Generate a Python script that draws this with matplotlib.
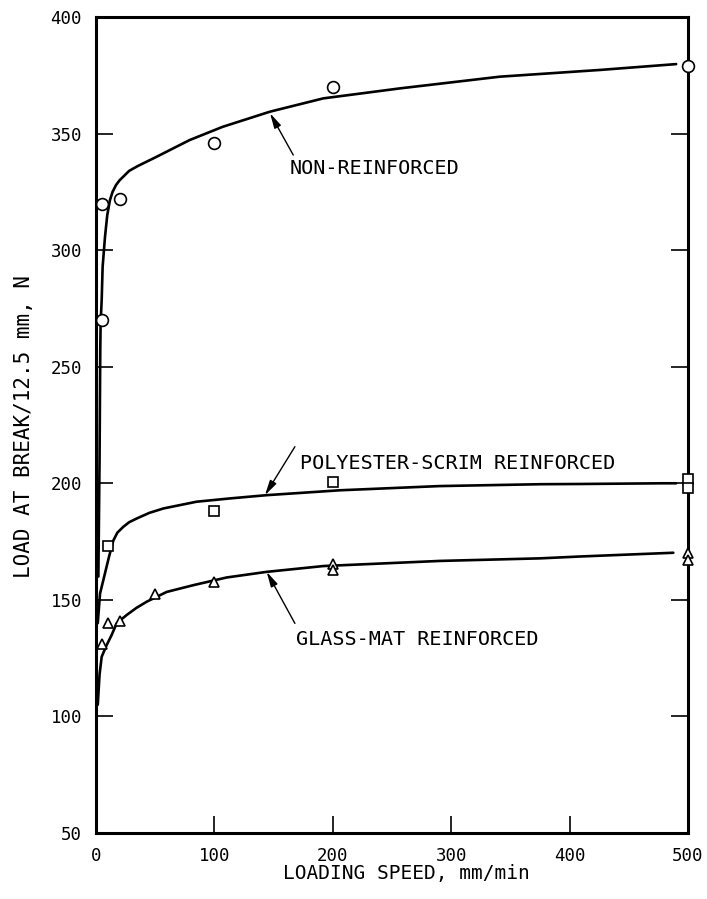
import matplotlib
matplotlib.use("Agg")
import matplotlib.pyplot as plt

nonreinf_x = [5, 5, 20, 100, 200, 500]
nonreinf_y = [270, 320, 322, 346, 370, 379]
polyester_x = [10, 100, 200, 500, 500]
polyester_y = [173, 188, 200.5, 202, 198]
glass_x = [5, 10, 20, 50, 100, 200, 200, 500, 500]
glass_y = [131, 140, 141, 152.5, 157.6, 165.5, 163, 170, 167]

# hand-drawn fit curves
nonreinf_curve_x = [2.0, 3.0, 3.6, 3.9, 4.8, 5.6, 7.6, 9.5, 11.8, 14, 17, 20, 23, 28, 35, 51, 79, 107, 147, 192, 257, 341, 426, 490]
nonreinf_curve_y = [160, 210, 257, 268.6, 278.6, 292.9, 305.7, 315, 321.5, 325, 328, 330, 331.5, 334, 336, 340, 347.2, 352.9, 359.4, 365.1, 369.4, 374.4, 377.3, 379.8]
polyester_curve_x = [1.5, 3.4, 6.2, 11, 14.6, 18, 23, 28, 34.4, 45, 56.9, 85, 113, 144, 206, 290, 375, 409, 479, 490]
polyester_curve_y = [140, 152.7, 158.5, 168.5, 175.4, 178.8, 181.3, 183.3, 184.9, 187.3, 189.2, 192.1, 193.5, 194.9, 197, 198.8, 199.6, 199.7, 200, 200]
glass_curve_x = [1.5, 3.0, 4.8, 9, 13.2, 17.5, 25.9, 34, 42.8, 59.7, 82.2, 110.4, 144, 192, 290.5, 375, 408.8, 487.6]
glass_curve_y = [105, 118, 125.6, 130.6, 134.9, 140, 143.5, 146.5, 149.2, 153.4, 156.3, 159.6, 162, 164.5, 166.7, 167.8, 168.6, 170.2]

x_ticks = [0, 100, 200, 300, 400, 500]
y_ticks = [50, 100, 150, 200, 250, 300, 350, 400]

mono = "DejaVu Sans Mono"

fig = plt.figure(figsize=(7.07, 8.99), dpi=100)
ax = fig.add_axes([96 / 707, 1 - 833 / 899, 592 / 707, 816 / 899])

line_kw = dict(color="black", lw=1.9, solid_capstyle="round", solid_joinstyle="round", zorder=2)
ax.plot(nonreinf_curve_x, nonreinf_curve_y, **line_kw)
ax.plot(polyester_curve_x, polyester_curve_y, **line_kw)
ax.plot(glass_curve_x, glass_curve_y, **line_kw)

mk_kw = dict(ls="none", mfc="white", mec="black", mew=1.2, zorder=3, clip_on=False)
ax.plot(nonreinf_x, nonreinf_y, marker="o", ms=8.5, **mk_kw)
ax.plot(polyester_x, polyester_y, marker="s", ms=7.5, **mk_kw)
ax.plot(glass_x, glass_y, marker="^", ms=7.5, **mk_kw)

arrow = dict(arrowstyle="-|>,head_length=0.9,head_width=0.22", color="black", lw=1.0, shrinkA=0, shrinkB=0)
ax.annotate("", xy=(147, 358.7), xytext=(166.6, 340.8), arrowprops=arrow)
ax.annotate("", xy=(142.7, 194.9), xytext=(168, 215.7), arrowprops=arrow)
ax.annotate("", xy=(144.2, 162), xytext=(168, 139.9), arrowprops=arrow)

lbl_kw = dict(fontsize=14.5, family=mono, ha="left", va="center")
ax.text(163.9, 335.2, "NON-REINFORCED", **lbl_kw)
ax.text(172.3, 208.7, "POLYESTER-SCRIM REINFORCED", **lbl_kw)
ax.text(168.9, 133.2, "GLASS-MAT REINFORCED", **lbl_kw)

ax.set_xlim(0, 500)
ax.set_ylim(50, 400)
ax.set_xticks(x_ticks)
ax.set_yticks(y_ticks)
ax.tick_params(direction="in", length=12, width=1.2, pad=10, labelsize=12.5, right=True)
for lab in ax.get_xticklabels() + ax.get_yticklabels():
    lab.set_family(mono)
for sp in ax.spines.values():
    sp.set_linewidth(2.2)

fig.text(406 / 707, 1 - 874 / 899, "LOADING SPEED, mm/min", family=mono, fontsize=14,
         ha="center", va="center")
fig.text(24 / 707, 1 - 427 / 899, "LOAD AT BREAK/12.5 mm, N", family=mono, fontsize=15,
         ha="center", va="center", rotation=90)

fig.savefig("out.png", dpi=100)
